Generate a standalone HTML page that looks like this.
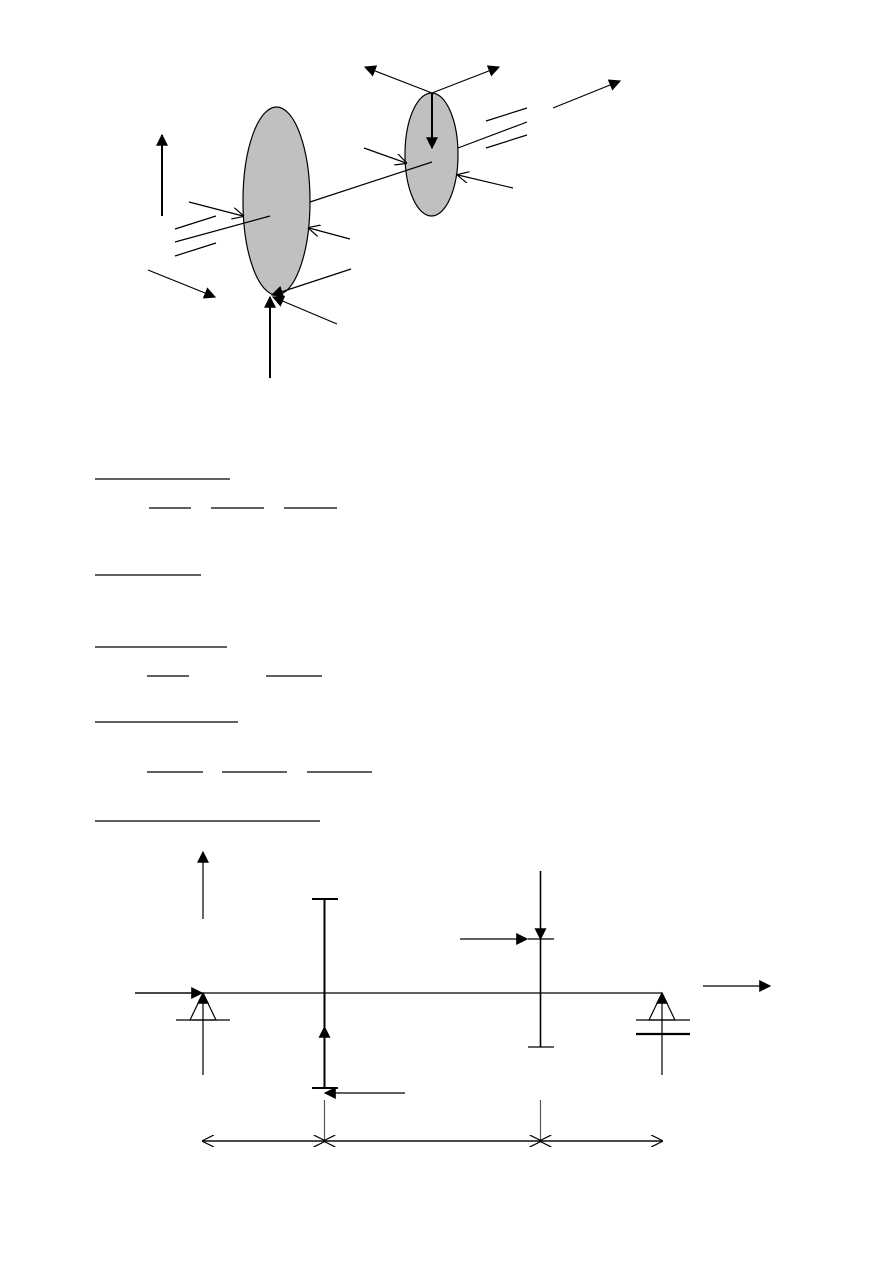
<!DOCTYPE html>
<html><head><meta charset="utf-8"><style>html,body{margin:0;padding:0;background:#fff}svg{display:block}</style></head>
<body>
<svg width="893" height="1263" viewBox="0 0 893 1263" xmlns="http://www.w3.org/2000/svg">
<defs>
<marker id="f" viewBox="0 0 10 10" refX="9" refY="5" markerWidth="10" markerHeight="10" markerUnits="userSpaceOnUse" orient="auto"><path d="M0,0L10,5L0,10z" fill="#000"/></marker>
<marker id="F" viewBox="0 0 10 10" refX="9" refY="5" markerWidth="12" markerHeight="12" markerUnits="userSpaceOnUse" orient="auto"><path d="M0,0L10,5L0,10z" fill="#000"/></marker>
<marker id="o" viewBox="0 0 10 10" refX="9" refY="5" markerWidth="12" markerHeight="12" markerUnits="userSpaceOnUse" orient="auto"><path d="M0,0L10,5L0,10" fill="none" stroke="#000" stroke-width="1"/></marker>
</defs>
<g stroke="#000" fill="none" stroke-width="1.2">
<!-- top figure -->
<ellipse cx="276.5" cy="201" rx="33.5" ry="94" fill="#c0c0c0"/>
<ellipse cx="431.5" cy="154.5" rx="26.5" ry="61.5" fill="#c0c0c0"/>
<line x1="175" y1="242" x2="270" y2="216"/>
<line x1="175" y1="229" x2="216" y2="216"/>
<line x1="175" y1="256" x2="216" y2="243"/>
<line x1="310" y1="202" x2="432" y2="162"/>
<line x1="458" y1="148" x2="527" y2="122"/>
<line x1="486" y1="121" x2="527" y2="108"/>
<line x1="486" y1="148" x2="527" y2="135"/>
<line x1="553" y1="108" x2="620" y2="81" marker-end="url(#F)"/>
<line x1="432" y1="93" x2="365" y2="67" marker-end="url(#F)"/>
<line x1="432" y1="93" x2="499" y2="67" marker-end="url(#F)"/>
<line x1="432" y1="93" x2="432" y2="148" stroke-width="2" marker-end="url(#F)"/>
<line x1="364" y1="148" x2="406" y2="163" marker-end="url(#o)"/>
<line x1="513" y1="188" x2="458" y2="175" marker-end="url(#o)"/>
<line x1="189" y1="202" x2="243" y2="216" marker-end="url(#o)"/>
<line x1="350" y1="239" x2="309" y2="228" marker-end="url(#o)"/>
<line x1="162" y1="216" x2="162" y2="135" stroke-width="2" marker-end="url(#F)"/>
<line x1="148" y1="270" x2="215" y2="297" marker-end="url(#F)"/>
<line x1="270" y1="378" x2="270" y2="297" stroke-width="2" marker-end="url(#F)"/>
<line x1="351" y1="269" x2="272" y2="295" marker-end="url(#F)"/>
<line x1="337" y1="324" x2="273" y2="297" marker-end="url(#F)"/>
<!-- underlines -->
<g stroke-width="1.3">
<line x1="95" y1="479" x2="230" y2="479"/>
<line x1="149" y1="508" x2="191" y2="508"/>
<line x1="211" y1="508" x2="264" y2="508"/>
<line x1="284" y1="508" x2="337" y2="508"/>
<line x1="95" y1="575" x2="201" y2="575"/>
<line x1="95" y1="647" x2="227" y2="647"/>
<line x1="147" y1="676" x2="189" y2="676"/>
<line x1="266" y1="676" x2="322" y2="676"/>
<line x1="95" y1="722" x2="238" y2="722"/>
<line x1="147" y1="772" x2="203" y2="772"/>
<line x1="222" y1="772" x2="287" y2="772"/>
<line x1="307" y1="772" x2="372" y2="772"/>
<line x1="95" y1="821" x2="320" y2="821"/>
</g>
<!-- bottom beam -->
<line x1="203" y1="919" x2="203" y2="852" marker-end="url(#F)"/>
<line x1="135" y1="993" x2="662" y2="993"/>
<line x1="135" y1="993" x2="202" y2="993" marker-end="url(#F)"/>
<path d="M203,993L190,1020L216,1020z" fill="#fff"/>
<line x1="176" y1="1020" x2="230" y2="1020"/>
<line x1="203" y1="1075" x2="203" y2="993" marker-end="url(#F)"/>
<line x1="324.5" y1="899" x2="324.5" y2="1088" stroke-width="2"/>
<line x1="312" y1="899" x2="338" y2="899" stroke-width="2"/>
<line x1="312" y1="1088" x2="338" y2="1088" stroke-width="2"/>
<line x1="324.5" y1="1088" x2="324.5" y2="1027" stroke-width="2" marker-end="url(#F)"/>
<line x1="405" y1="1093" x2="325" y2="1093" marker-end="url(#F)"/>
<line x1="540.5" y1="939" x2="540.5" y2="1047" stroke-width="1.6"/>
<line x1="528" y1="939" x2="554" y2="939"/>
<line x1="528" y1="1047" x2="554" y2="1047"/>
<line x1="540.5" y1="871" x2="540.5" y2="939" stroke-width="1.6" marker-end="url(#F)"/>
<line x1="460" y1="939" x2="527" y2="939" marker-end="url(#F)"/>
<path d="M662,993L649,1020L675,1020z" fill="#fff"/>
<line x1="662" y1="1075" x2="662" y2="993" marker-end="url(#F)"/>
<line x1="636" y1="1020" x2="690" y2="1020"/>
<line x1="636" y1="1034" x2="690" y2="1034" stroke-width="2.2"/>
<line x1="703" y1="986" x2="770" y2="986" marker-end="url(#F)"/>
<line x1="324.5" y1="1100" x2="324.5" y2="1141" stroke="#555"/>
<line x1="540.5" y1="1100" x2="540.5" y2="1141" stroke="#555"/>
<line x1="324.5" y1="1141" x2="203" y2="1141" marker-end="url(#o)"/>
<line x1="203" y1="1141" x2="324.5" y2="1141" marker-end="url(#o)"/>
<line x1="540.5" y1="1141" x2="324.5" y2="1141" marker-end="url(#o)"/>
<line x1="324.5" y1="1141" x2="540.5" y2="1141" marker-end="url(#o)"/>
<line x1="662" y1="1141" x2="540.5" y2="1141" marker-end="url(#o)"/>
<line x1="540.5" y1="1141" x2="662" y2="1141" marker-end="url(#o)"/>
</g>
</svg>
</body></html>
